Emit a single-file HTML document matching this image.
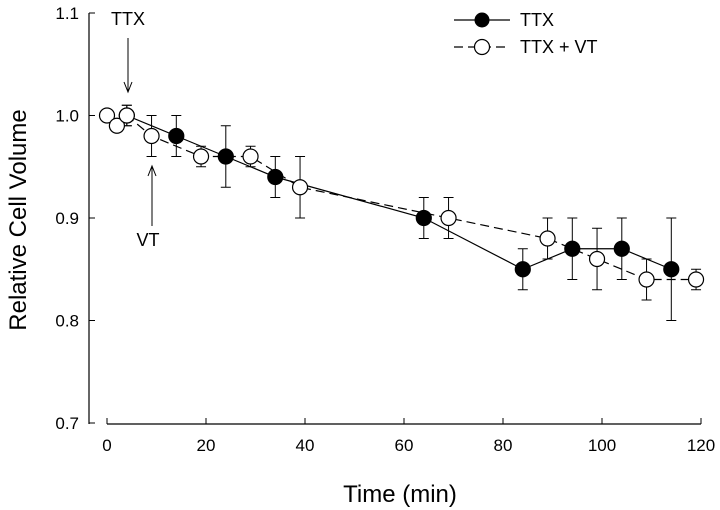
<!DOCTYPE html>
<html><head><meta charset="utf-8"><style>body{margin:0;background:#fff}svg{display:block;font-family:"Liberation Sans",sans-serif}</style></head>
<body>
<svg id="c" width="720" height="510"></svg>
<script>
const ticksX=[0,20,40,60,80,100,120];
const ticksY=[0.7,0.8,0.9,1.0,1.1];
const ttxT=[4,14,24,34,64,84,94,104,114];
const ttxV=[1.0,0.98,0.96,0.94,0.90,0.85,0.87,0.87,0.85];
const ttxE=[0.01,0.02,0.03,0.02,0.02,0.02,0.03,0.03,0.05];
const vtT=[0,2,4,9,19,29,39,69,89,99,109,119];
const vtV=[1.0,0.99,1.0,0.98,0.96,0.96,0.93,0.90,0.88,0.86,0.84,0.84];
const vtE=[0,0,0.01,0.02,0.01,0.01,0.03,0.02,0.02,0.03,0.02,0.01];
const X=t=>107+t*4.95, Y=v=>423-(v-0.7)*1025;
const s=document.getElementById('c');const NS='http://www.w3.org/2000/svg';
function el(tag,a,txt){const e=document.createElementNS(NS,tag);for(const k in a)e.setAttribute(k,a[k]);if(txt!=null)e.textContent=txt;s.appendChild(e);return e;}
let e;
e=el('line',{x1:89,y1:Y(1.1),x2:89,y2:424,stroke:'#000','stroke-width':1.2});

e=el('line',{x1:X(0),y1:424,x2:X(120),y2:424,stroke:'#000','stroke-width':1.2});

ticksX.forEach(t=>{el('line',{x1:X(t),y1:424,x2:X(t),y2:418,stroke:'#000'});
e=el('text',{x:X(t),y:451,'font-size':17,'text-anchor':'middle'},t);
});
ticksY.forEach(v=>{el('line',{x1:89,y1:Y(v),x2:95,y2:Y(v),stroke:'#000'});
e=el('text',{x:79,y:Y(v)+6,'font-size':17,'text-anchor':'end'},v.toFixed(1));
});
e=el('text',{x:400,y:502,'font-size':24,'text-anchor':'middle'},'Time (min)');

e=el('text',{x:0,y:0,'font-size':24,'text-anchor':'middle',transform:'translate(26,220) rotate(-90)'},'Relative Cell Volume');

function series(T,V,E,filled,name){
 el('polyline',{points:T.map((t,i)=>X(t)+','+Y(V[i])).join(' '),fill:'none',stroke:'#000','stroke-width':1.2,'stroke-dasharray':filled?'none':'9,5'});
 T.forEach((t,i)=>{if(E[i]>0){const x=X(t);el('line',{x1:x,y1:Y(V[i]-E[i]),x2:x,y2:Y(V[i]+E[i]),stroke:'#000'});
  [V[i]-E[i],V[i]+E[i]].forEach(v=>el('line',{x1:x-5,y1:Y(v),x2:x+5,y2:Y(v),stroke:'#000'}));}});
 T.forEach((t,i)=>{const c=el('circle',{cx:X(t),cy:Y(V[i]),r:7.5,fill:filled?'#000':'#fff',stroke:'#000','stroke-width':1.2});
 });
}
series(ttxT,ttxV,ttxE,true,'ttx');
series(vtT,vtV,vtE,false,'ttx-vt');
e=el('text',{x:128,y:25,'font-size':18,'text-anchor':'middle'},'TTX');
el('line',{x1:128,y1:38,x2:128,y2:92,stroke:'#000'});el('polyline',{points:'124,82 128,92 132,82',fill:'none',stroke:'#000'});
e=el('text',{x:148,y:246,'font-size':18,'text-anchor':'middle'},'VT');
el('line',{x1:152,y1:226,x2:152,y2:166,stroke:'#000'});el('polyline',{points:'148,176 152,166 156,176',fill:'none',stroke:'#000'});
el('line',{x1:454,y1:20,x2:510,y2:20,stroke:'#000','stroke-width':1.2});
el('circle',{cx:482,cy:20,r:7.5,fill:'#000'});
e=el('text',{x:520,y:26,'font-size':18},'TTX');
el('line',{x1:454,y1:47,x2:510,y2:47,stroke:'#000','stroke-width':1.2,'stroke-dasharray':'9,5'});
el('circle',{cx:482,cy:47,r:7.5,fill:'#fff',stroke:'#000','stroke-width':1.2});
e=el('text',{x:520,y:53,'font-size':18},'TTX + VT');
</script>
</body></html>
